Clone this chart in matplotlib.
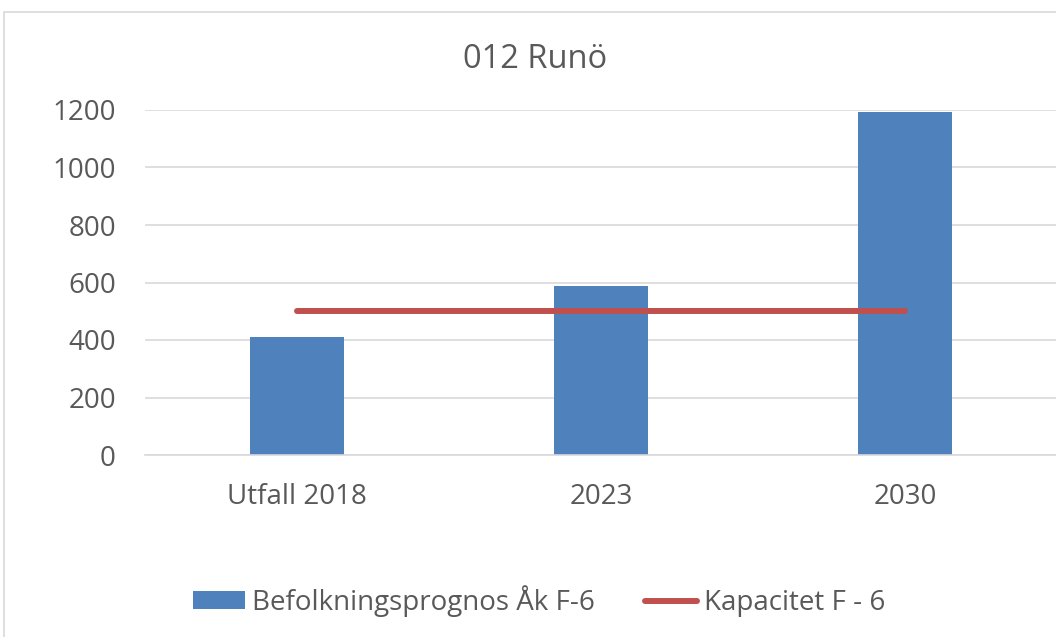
import numpy as np
import matplotlib.pyplot as plt
from matplotlib.patches import Rectangle

categories = ['Utfall 2018', '2023', '2030']
befolkning = [412, 587, 1192]
kapacitet = [500, 500, 500]
y_ticks = [0, 200, 400, 600, 800, 1000, 1200]

text_color = '#595959'
bar_color = '#4f81bd'
line_color = '#c0504d'

plt.rcParams['font.family'] = ['Open Sans', 'DejaVu Sans']

W, H = 1056, 637
fig = plt.figure(figsize=(W / 100, H / 100), dpi=100)
ax = fig.add_axes([145 / W, 1 - 455 / H, 912 / W, 345 / H])

# outer chart frame (runs past the right and bottom edges)
fig.patches.append(Rectangle((4 / W, -0.1), 1.2, 1.1 - 12 / H, transform=fig.transFigure,
                             fill=False, edgecolor='#d9d9d9', linewidth=1.2))

x = np.arange(len(categories))
bars = ax.bar(x, befolkning, width=0.31, color=bar_color, label='Befolkningsprognos Åk F-6', zorder=2)
line, = ax.plot(x, kapacitet, color=line_color, linewidth=4.3, solid_capstyle='round',
                label='Kapacitet F - 6', zorder=3)

ax.set_xlim(-0.5, 2.5)
ax.set_ylim(0, 1200)
ax.set_yticks(y_ticks)
ax.set_xticks(x)
ax.set_xticklabels(categories)
ax.tick_params(axis='both', length=0, labelsize=20, colors=text_color)
ax.tick_params(axis='y', pad=21)
ax.tick_params(axis='x', pad=20)
ax.yaxis.grid(True, color='#d9d9d9', linewidth=1.2, zorder=0)
ax.set_axisbelow(True)
for side in ['top', 'right', 'left']:
    ax.spines[side].set_visible(False)
ax.spines['bottom'].set_color('#d9d9d9')
ax.spines['bottom'].set_linewidth(1.2)

fig.text(535 / W, 1 - 68 / H, '012 Runö', ha='center', va='baseline', fontsize=23.5, color=text_color)

fig.legend(handles=[bars, line], loc='center left', bbox_to_anchor=(193 / W, 1 - 601 / H), ncol=2,
           frameon=False, fontsize=20, labelcolor=text_color, handlelength=1.87, handleheight=0.62,
           handletextpad=0.25, columnspacing=1.8, borderpad=0, borderaxespad=0)

fig.savefig('out.png', dpi=100)
